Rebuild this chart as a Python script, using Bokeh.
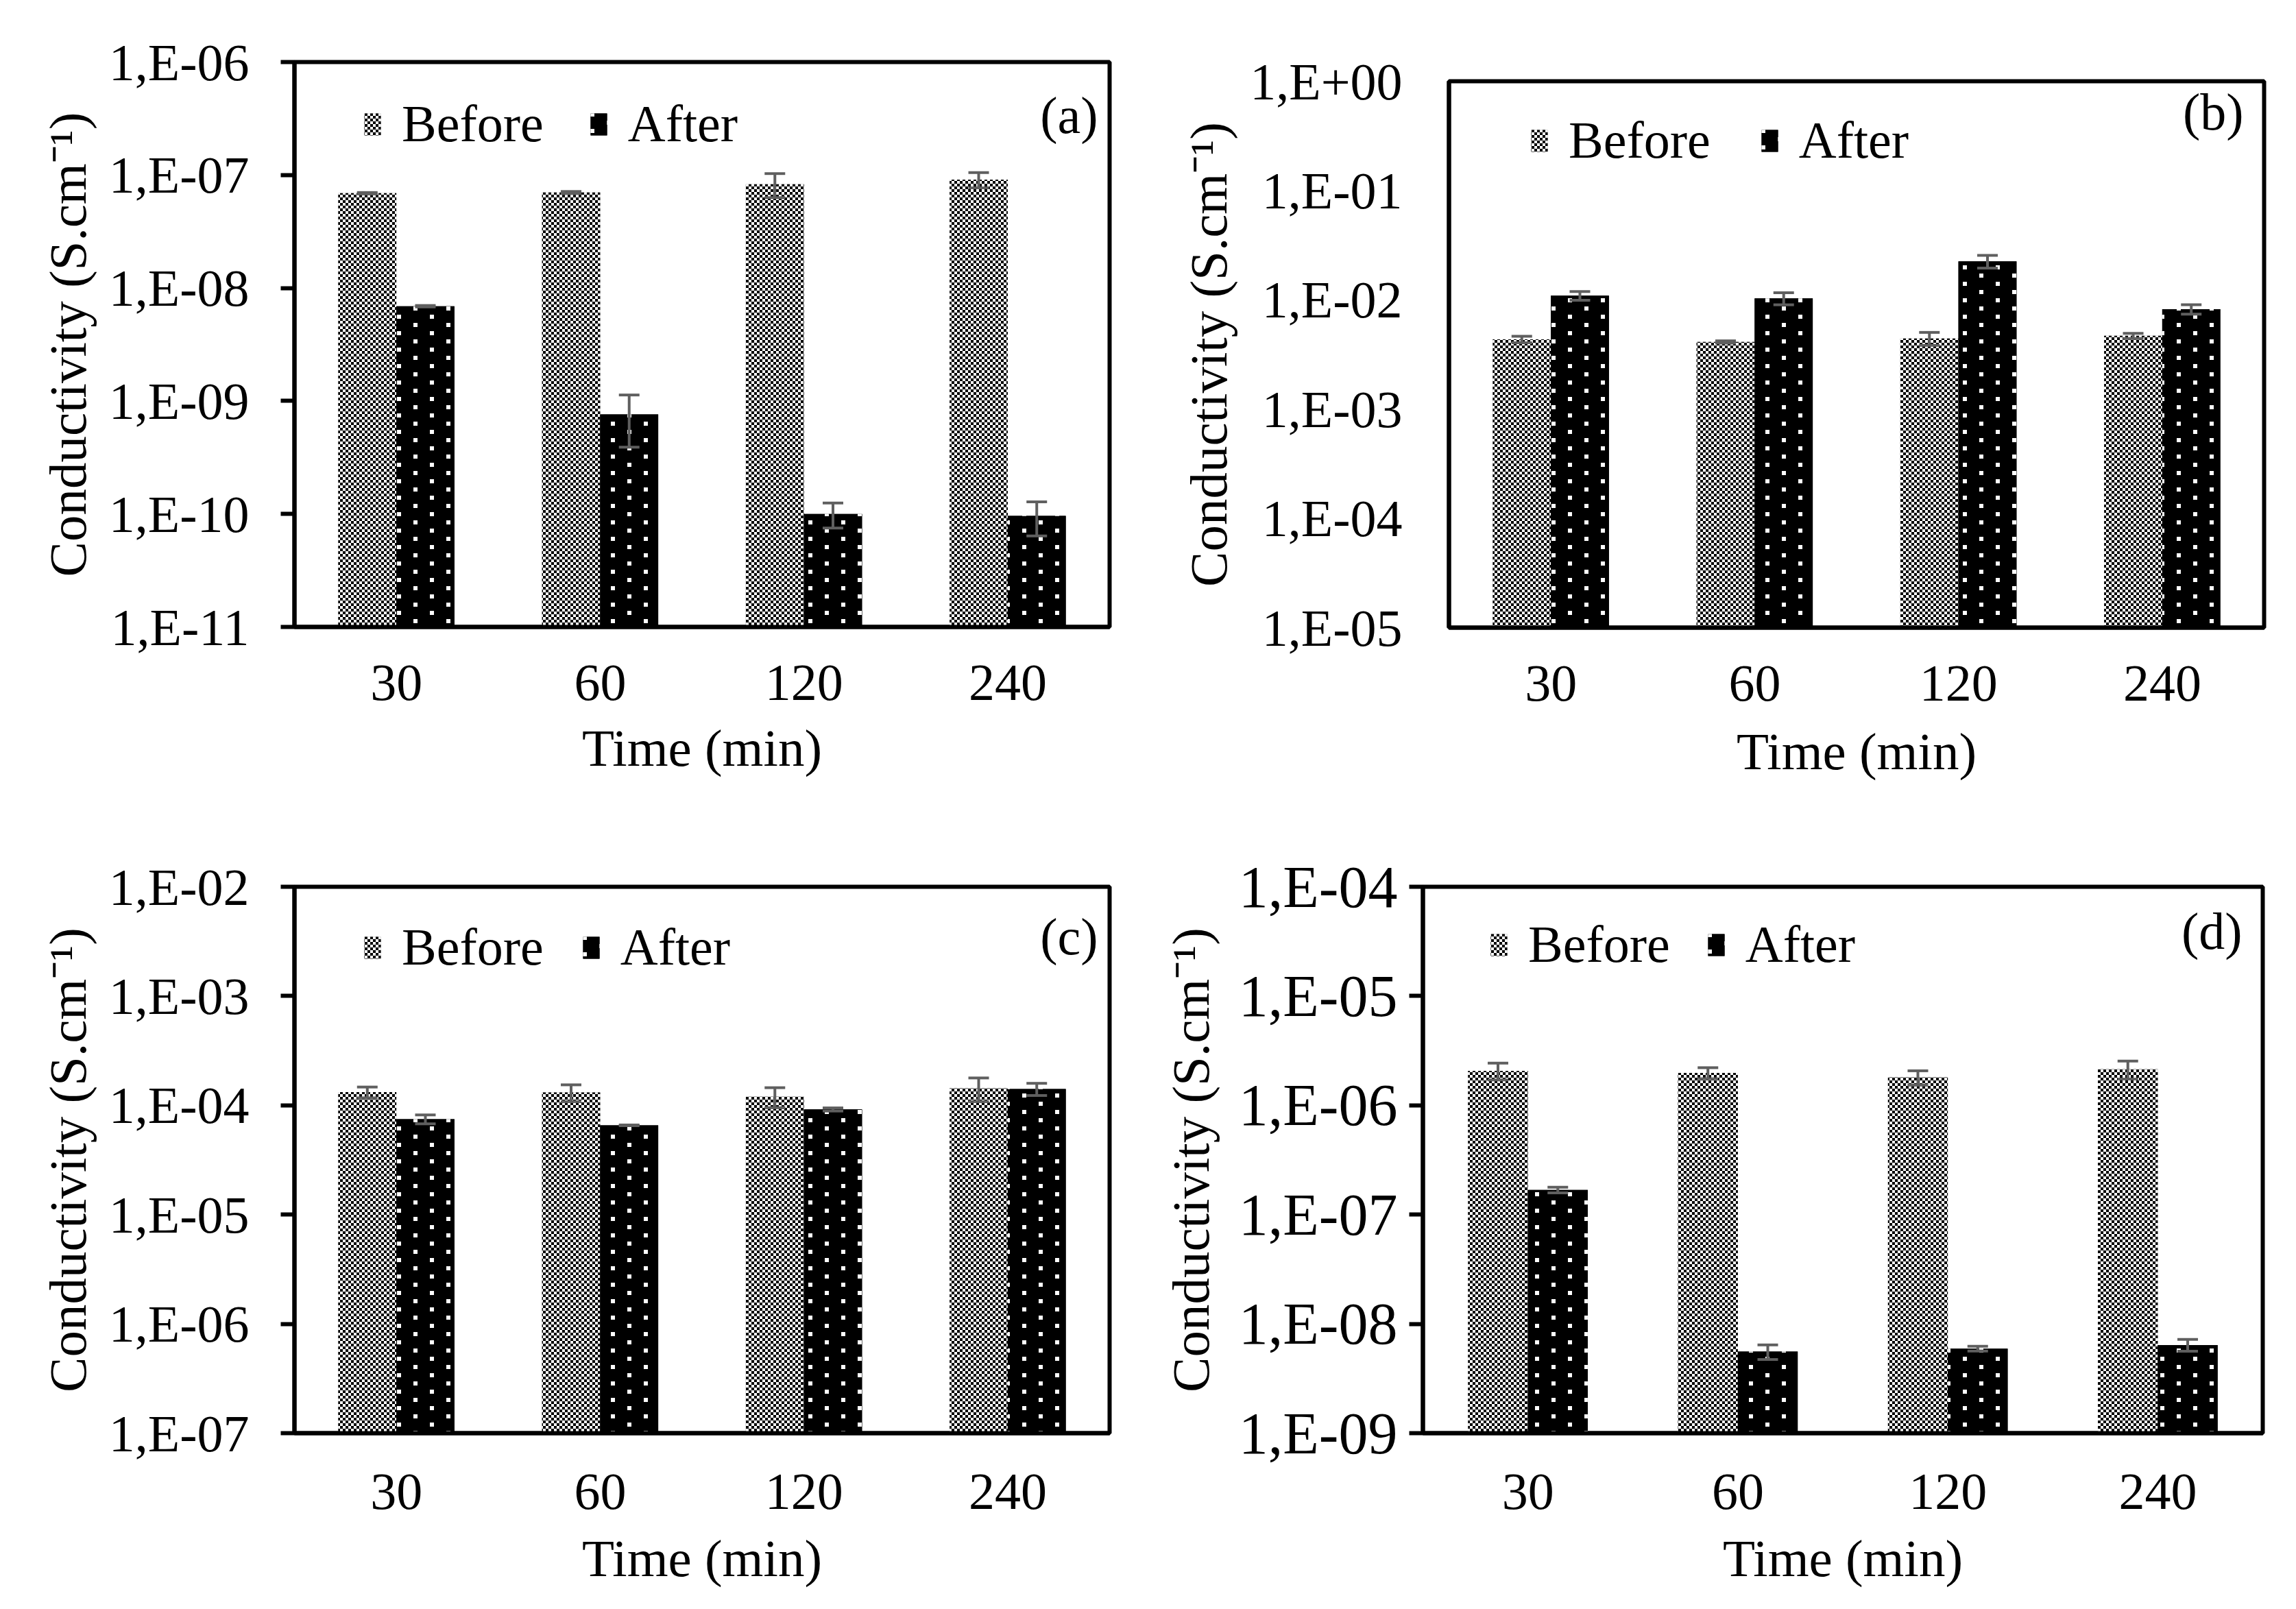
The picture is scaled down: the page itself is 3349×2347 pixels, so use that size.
import base64
from bokeh.plotting import figure
from bokeh.models import (ColumnDataSource, FactorRange, Whisker, TeeHead, Legend,
                          LegendItem, Label, FixedTicker, CustomJSTickFormatter,
                          ImageURLTexture, Range1d)
from bokeh.transform import dodge
from bokeh.layouts import column, row
from bokeh.core.properties import value
from bokeh.embed import file_html
from bokeh.resources import INLINE

# ---------------- data ----------------
times = ["30", "60", "120", "240"]

a_before = [6.9e-8, 7.0e-8, 8.3e-8, 9.1e-8]
a_before_err = [1.0e-9, 1.5e-9, 2.0e-8, 1.4e-8]
a_after = [6.9e-9, 7.6e-10, 1.0e-10, 9.6e-11]
a_after_err = [1.0e-10, 3.7e-10, 2.5e-11, 3.2e-11]

b_before = [4.34e-3, 4.11e-3, 4.43e-3, 4.68e-3]
b_before_err = [3.0e-4, 1.0e-4, 6.0e-4, 2.5e-4]
b_after = [1.09e-2, 1.03e-2, 2.25e-2, 8.2e-3]
b_after_err = [1.0e-3, 1.3e-3, 3.0e-3, 8.0e-4]

c_before = [1.32e-4, 1.31e-4, 1.20e-4, 1.43e-4]
c_before_err = [1.5e-5, 2.3e-5, 2.5e-5, 3.5e-5]
c_after = [7.47e-5, 6.56e-5, 9.17e-5, 1.41e-4]
c_after_err = [7.0e-6, 5.0e-7, 3.0e-6, 1.8e-5]

d_before = [2.07e-6, 1.98e-6, 1.80e-6, 2.14e-6]
d_before_err = [3.6e-7, 2.3e-7, 2.7e-7, 4.0e-7]
d_after = [1.68e-7, 5.57e-9, 5.94e-9, 6.41e-9]
d_after_err = [1.0e-8, 8.5e-10, 3.0e-10, 8.0e-10]

a_ticks = [1e-11, 1e-10, 1e-9, 1e-8, 1e-7, 1e-6]
a_tick_labels = ["1,E-11", "1,E-10", "1,E-09", "1,E-08", "1,E-07", "1,E-06"]
b_ticks = [1e-5, 1e-4, 1e-3, 1e-2, 1e-1, 1e0]
b_tick_labels = ["1,E-05", "1,E-04", "1,E-03", "1,E-02", "1,E-01", "1,E+00"]
c_ticks = [1e-7, 1e-6, 1e-5, 1e-4, 1e-3, 1e-2]
c_tick_labels = ["1,E-07", "1,E-06", "1,E-05", "1,E-04", "1,E-03", "1,E-02"]
d_ticks = [1e-9, 1e-8, 1e-7, 1e-6, 1e-5, 1e-4]
d_tick_labels = ["1,E-09", "1,E-08", "1,E-07", "1,E-06", "1,E-05", "1,E-04"]

series_names = ["Before", "After"]
panel_tags = ["(a)", "(b)", "(c)", "(d)"]
x_title = "Time (min)"
y_title = "Conductivity (S.cm\u207b\u00b9)"

# ---------------- styling ----------------
FONT = "Liberation Serif"
FS = "76px"
FS_T = "77px"
ERR_COLOR = "#5f5f5f"


def svg_url(svg):
    return "data:image/svg+xml;base64," + base64.b64encode(svg.encode()).decode()


checker_svg = ("<svg xmlns='http://www.w3.org/2000/svg' width='8' height='8'>"
               "<rect width='8' height='8' fill='white'/>"
               "<rect width='4' height='4' fill='black'/>"
               "<rect x='4' y='4' width='4' height='4' fill='black'/></svg>")
dots_svg = ("<svg xmlns='http://www.w3.org/2000/svg' width='48' height='24'>"
            "<rect width='48' height='24' fill='black'/>"
            "<rect x='3' y='3' width='6' height='6' fill='white'/>"
            "<rect x='27' y='15' width='6' height='6' fill='white'/></svg>")


def make_panel(tag, before, before_err, after, after_err, ticks, tick_labels,
               W, H, left, top, fw, fh, tick_out, leg_x, leg_top, tag_top,
               tag_right, leg_spacing, ytick_fs=FS, ytick_stand=46, ylab_stand=14,
               xlab_stand=56, xtitle_stand=24):
    right = W - left - fw
    bottom = H - top - fh
    p = figure(x_range=FactorRange(*times), y_axis_type="log",
               y_range=Range1d(ticks[0], ticks[-1]),
               width=W, height=H, min_border_left=left, min_border_right=right,
               min_border_top=top, min_border_bottom=bottom,
               output_backend="svg", toolbar_location=None, tools="")
    p.grid.visible = False
    p.outline_line_color = "black"
    p.outline_line_width = 6
    p.background_fill_color = "white"
    p.border_fill_color = "white"

    base = ticks[0]
    src = ColumnDataSource(dict(
        x=times, before=before, after=after,
        b_up=[v + e for v, e in zip(before, before_err)],
        b_lo=[v - e for v, e in zip(before, before_err)],
        a_up=[v + e for v, e in zip(after, after_err)],
        a_lo=[v - e for v, e in zip(after, after_err)],
    ))
    off = 0.1425
    bw = 0.285
    tex_b = ImageURLTexture(url=svg_url(checker_svg))
    tex_a = ImageURLTexture(url=svg_url(dots_svg))
    rb = p.vbar(x=dodge("x", -off, range=p.x_range), top="before", bottom=base,
                width=bw, source=src, fill_color="#808080", line_color=None,
                hatch_pattern=value("checker"), hatch_extra={"checker": tex_b})
    ra = p.vbar(x=dodge("x", off, range=p.x_range), top="after", bottom=base,
                width=bw, source=src, fill_color="black", line_color=None,
                hatch_pattern=value("dots"), hatch_extra={"dots": tex_a})

    for key, sgn in (("b", -1), ("a", 1)):
        w = Whisker(base=dodge("x", sgn * off, range=p.x_range),
                    upper=key + "_up", lower=key + "_lo", source=src,
                    line_color=ERR_COLOR, line_width=4, level="annotation",
                    upper_head=TeeHead(size=30, line_color=ERR_COLOR, line_width=4),
                    lower_head=TeeHead(size=30, line_color=ERR_COLOR, line_width=4))
        p.add_layout(w)

    # axes
    yax = p.yaxis[0]
    yax.ticker = FixedTicker(ticks=ticks, minor_ticks=[])
    yax.formatter = CustomJSTickFormatter(args=dict(t=ticks, l=tick_labels), code="""
        let best = 0, bd = Infinity;
        for (let i = 0; i < t.length; i++) {
            const d = Math.abs(Math.log10(tick) - Math.log10(t[i]));
            if (d < bd) { bd = d; best = i; }
        }
        return l[best];
    """)
    yax.major_tick_out = tick_out
    yax.major_tick_in = 0
    yax.minor_tick_out = 0
    yax.minor_tick_in = 0
    yax.major_tick_line_width = 6
    yax.axis_line_width = 6
    yax.major_label_standoff = ytick_stand
    yax.axis_label = y_title
    yax.axis_label_standoff = ylab_stand

    xax = p.xaxis[0]
    xax.major_tick_out = 0
    xax.major_tick_in = 0
    xax.axis_line_width = 6
    xax.major_label_standoff = xlab_stand
    xax.axis_label = x_title
    xax.axis_label_standoff = xtitle_stand

    for ax in (xax, yax):
        ax.major_label_text_font = FONT
        ax.major_label_text_font_size = FS
        ax.major_label_text_color = "black"
        ax.axis_label_text_font = FONT
        ax.axis_label_text_font_size = FS_T
        ax.axis_label_text_font_style = "normal"
        ax.axis_label_text_color = "black"
        ax.axis_line_color = "black"
        ax.major_tick_line_color = "black"
    yax.major_label_text_font_size = ytick_fs

    leg_h = 80
    legend = Legend(items=[LegendItem(label=series_names[0], renderers=[rb]),
                           LegendItem(label=series_names[1], renderers=[ra])],
                    orientation="horizontal", location=(leg_x, fh - leg_top - leg_h // 2),
                    glyph_width=30, glyph_height=40, label_standoff=28,
                    spacing=leg_spacing, padding=0, margin=0,
                    border_line_color=None, background_fill_alpha=0,
                    label_text_font=FONT, label_text_font_size=FS,
                    label_text_color="black")
    p.add_layout(legend)

    p.add_layout(Label(x=fw - tag_right, y=fh - tag_top, x_units="screen", y_units="screen",
                       text=tag, text_align="right", text_baseline="middle",
                       text_font=FONT, text_font_size=FS, text_color="black"))
    return p


pa = make_panel(panel_tags[0], a_before, a_before_err, a_after, a_after_err,
                a_ticks, a_tick_labels, W=1660, H=1160, left=429, top=90, fw=1189,
                fh=824, tick_out=20, leg_x=99, leg_top=94, tag_top=77, tag_right=17,
                leg_spacing=65)
pb = make_panel(panel_tags[1], b_before, b_before_err, b_after, b_after_err,
                b_ticks, b_tick_labels, W=1673, H=1160, left=453, top=118, fw=1189,
                fh=797, tick_out=0, leg_x=117, leg_top=90, tag_top=44, tag_right=30,
                leg_spacing=71, ytick_stand=68, xtitle_stand=28)
pc = make_panel(panel_tags[2], c_before, c_before_err, c_after, c_after_err,
                c_ticks, c_tick_labels, W=1660, H=1171, left=429, top=133, fw=1189,
                fh=797, tick_out=20, leg_x=99, leg_top=92, tag_top=72, tag_right=17,
                leg_spacing=54, xlab_stand=60, xtitle_stand=26)
pd = make_panel(panel_tags[3], d_before, d_before_err, d_after, d_after_err,
                d_ticks, d_tick_labels, W=1673, H=1171, left=415, top=133, fw=1225,
                fh=797, tick_out=20, leg_x=96, leg_top=88, tag_top=64, tag_right=30,
                leg_spacing=52, ytick_fs="86px", ytick_stand=17, ylab_stand=24,
                xlab_stand=60, xtitle_stand=26)

layout = column(row(column(pa), column(pb), spacing=0),
                row(column(pc), column(pd), spacing=0), spacing=0)
open("out.html", "w").write(file_html(layout, INLINE))
